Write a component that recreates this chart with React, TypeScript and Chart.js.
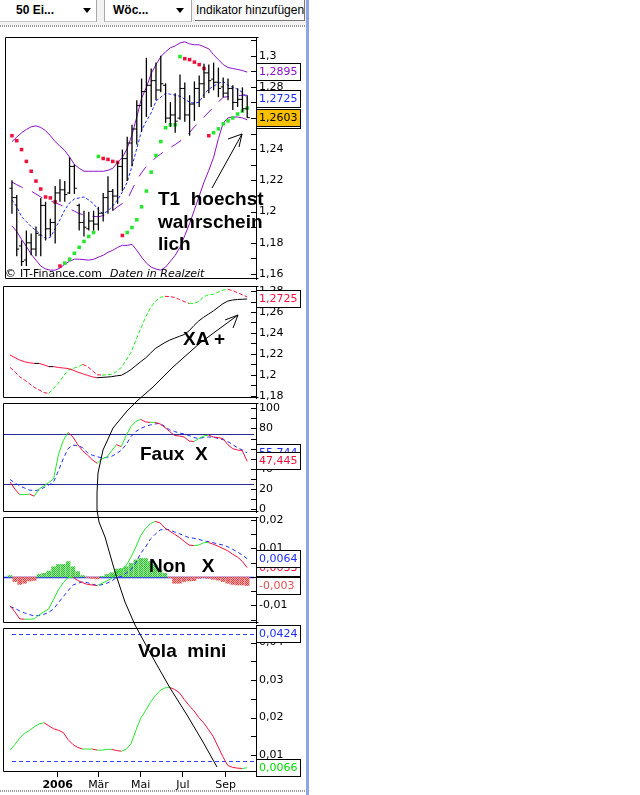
import React, { useEffect, useRef } from 'react';
import { Chart, registerables } from 'chart.js';

Chart.register(...registerables);

// ---------------- data ----------------
const firstWeek = '2005-10-24';
const weekCount = 50;
const monthTickDates = ['2006-01-01', '2006-03-01', '2006-05-01', '2006-07-01', '2006-09-01'];
const monthTickLabels = ['2006', 'Mär', 'Mai', 'Jul', 'Sep'];

const priceOpen = [1.215, 1.209, 1.178, 1.169, 1.18, 1.176, 1.185, 1.204, 1.189, 1.193, 1.212, 1.214, 1.212, 1.229, 1.204, 1.193, 1.189, 1.194, 1.192, 1.199, 1.209, 1.213, 1.21, 1.229, 1.234, 1.244, 1.253, 1.268, 1.277, 1.281, 1.284, 1.278, 1.281, 1.26, 1.262, 1.26, 1.279, 1.262, 1.269, 1.279, 1.282, 1.289, 1.285, 1.283, 1.28, 1.276, 1.279, 1.27, 1.272, 1.266];
const priceHigh = [1.2202, 1.2107, 1.1815, 1.1879, 1.186, 1.1904, 1.2088, 1.2063, 1.1955, 1.2164, 1.2208, 1.2196, 1.2348, 1.2303, 1.205, 1.2006, 1.1999, 1.2006, 1.2031, 1.212, 1.2227, 1.2145, 1.2322, 1.2398, 1.2481, 1.2557, 1.2715, 1.2854, 1.2987, 1.2918, 1.2956, 1.3, 1.2823, 1.2702, 1.276, 1.288, 1.2829, 1.2747, 1.2835, 1.2873, 1.2949, 1.2943, 1.2956, 1.2924, 1.2861, 1.2854, 1.281, 1.2791, 1.2797, 1.2747];
const priceLow = [1.1986, 1.1714, 1.1651, 1.1651, 1.172, 1.1714, 1.1714, 1.1815, 1.1841, 1.1796, 1.2063, 1.2063, 1.2113, 1.2113, 1.1879, 1.1841, 1.1879, 1.1879, 1.1879, 1.1936, 1.1986, 1.2006, 1.205, 1.2132, 1.2196, 1.2291, 1.243, 1.2512, 1.2607, 1.2671, 1.2715, 1.2766, 1.2569, 1.2544, 1.2506, 1.259, 1.2576, 1.2487, 1.2582, 1.2671, 1.2728, 1.2759, 1.2778, 1.2734, 1.2734, 1.2715, 1.2652, 1.2671, 1.2639, 1.2601];
const priceClose = [1.209, 1.176, 1.168, 1.18, 1.176, 1.186, 1.204, 1.189, 1.193, 1.212, 1.214, 1.211, 1.229, 1.215, 1.193, 1.19, 1.194, 1.192, 1.199, 1.209, 1.213, 1.21, 1.229, 1.234, 1.244, 1.253, 1.268, 1.277, 1.281, 1.284, 1.278, 1.282, 1.26, 1.262, 1.258, 1.279, 1.262, 1.269, 1.279, 1.282, 1.289, 1.284, 1.283, 1.279, 1.276, 1.279, 1.27, 1.272, 1.266, 1.2603];

const bbUpper = [1.2449, 1.2478, 1.2506, 1.2527, 1.2544, 1.255, 1.254, 1.2519, 1.2487, 1.2449, 1.242, 1.2392, 1.235, 1.2303, 1.2278, 1.2259, 1.2259, 1.2259, 1.2259, 1.2259, 1.2265, 1.2278, 1.2316, 1.2348, 1.2405, 1.2493, 1.2607, 1.2728, 1.2797, 1.2886, 1.2943, 1.2994, 1.3025, 1.3051, 1.3063, 1.3082, 1.3089, 1.3076, 1.307, 1.307, 1.3057, 1.3044, 1.3006, 1.2975, 1.2943, 1.2924, 1.2918, 1.2912, 1.2905, 1.2895];
const bbMiddle = [1.2075, 1.2031, 1.1967, 1.1936, 1.1904, 1.1879, 1.1853, 1.1828, 1.1835, 1.1892, 1.1948, 1.2012, 1.2056, 1.2081, 1.2088, 1.2094, 1.2075, 1.205, 1.2012, 1.1986, 1.2005, 1.2037, 1.2075, 1.2126, 1.2189, 1.2291, 1.2405, 1.2519, 1.2582, 1.2633, 1.2709, 1.2734, 1.2759, 1.2753, 1.2747, 1.274, 1.2721, 1.2702, 1.2696, 1.2702, 1.2753, 1.2785, 1.2804, 1.2823, 1.2835, 1.281, 1.2797, 1.2785, 1.2765, 1.2725];
const bbLower = [1.191, 1.1872, 1.1822, 1.1777, 1.1727, 1.1689, 1.1651, 1.1632, 1.1625, 1.1625, 1.1638, 1.1663, 1.1682, 1.1695, 1.1695, 1.1692, 1.1689, 1.1695, 1.1708, 1.172, 1.1739, 1.1752, 1.1771, 1.1784, 1.1784, 1.179, 1.1752, 1.1708, 1.167, 1.1644, 1.1632, 1.1625, 1.1644, 1.1682, 1.172, 1.1771, 1.1847, 1.1923, 1.2012, 1.21, 1.2189, 1.2265, 1.2348, 1.2468, 1.2569, 1.2601, 1.2607, 1.2607, 1.2601, 1.2589];
const longAverage = [1.2189, 1.2173, 1.2157, 1.2145, 1.2132, 1.2113, 1.2094, 1.2082, 1.2069, 1.2057, 1.2044, 1.2031, 1.2018, 1.2003, 1.1987, 1.198, 1.1974, 1.197, 1.1967, 1.1975, 1.1987, 1.2008, 1.2031, 1.2052, 1.2075, 1.214, 1.2202, 1.225, 1.2291, 1.232, 1.2348, 1.237, 1.2392, 1.2411, 1.243, 1.2452, 1.2474, 1.2509, 1.2544, 1.2576, 1.2607, 1.2639, 1.2671, 1.2703, 1.2734, 1.2737, 1.274, 1.2743, 1.2747, 1.2747];
const sarValues = [1.2487, 1.2455, 1.2398, 1.2322, 1.2259, 1.2196, 1.2145, 1.2094, 1.2088, 1.2062, 1.1651, 1.167, 1.1695, 1.1733, 1.1771, 1.1809, 1.1841, 1.1866, 1.2354, 1.2341, 1.2335, 1.2322, 1.2316, 1.1847, 1.1866, 1.1898, 1.1948, 1.2031, 1.2132, 1.2253, 1.236, 1.2449, 1.2538, 1.2557, 1.2557, 1.2994, 1.2981, 1.2975, 1.2959, 1.2943, 1.2918, 1.2487, 1.2506, 1.2531, 1.2563, 1.2582, 1.2601, 1.2626, 1.2645, 1.2664];
const sarSignal = [-1, -1, -1, -1, -1, -1, -1, -1, -1, -1, -1, 1, 1, 1, 1, 1, 1, 1, 1, -1, -1, -1, -1, -1, 1, 1, 1, 1, 1, 1, 1, 1, 1, 1, 1, 1, -1, -1, -1, -1, -1, -1, 1, 1, 1, 1, 1, 1, 1, 1];

const trendSlow = [1.2189, 1.2165, 1.2141, 1.2125, 1.2115, 1.2109, 1.2109, 1.2095, 1.2078, 1.2078, 1.207, 1.2065, 1.206, 1.2045, 1.2025, 1.201, 1.1995, 1.198, 1.1972, 1.1975, 1.1978, 1.1982, 1.199, 1.1995, 1.202, 1.205, 1.2088, 1.2125, 1.216, 1.2205, 1.225, 1.228, 1.2308, 1.2332, 1.235, 1.2368, 1.2385, 1.242, 1.247, 1.2515, 1.255, 1.258, 1.261, 1.2645, 1.268, 1.2705, 1.2715, 1.272, 1.2722, 1.2725];
const trendFast = [1.207, 1.203, 1.1981, 1.195, 1.1915, 1.188, 1.1855, 1.183, 1.1822, 1.187, 1.192, 1.1985, 1.2045, 1.206, 1.2075, 1.2099, 1.208, 1.204, 1.2, 1.1997, 1.1999, 1.2005, 1.203, 1.207, 1.214, 1.2215, 1.233, 1.244, 1.255, 1.264, 1.27, 1.274, 1.275, 1.2748, 1.274, 1.272, 1.27, 1.2683, 1.2683, 1.27, 1.2745, 1.2765, 1.277, 1.279, 1.281, 1.2817, 1.2805, 1.2785, 1.2765, 1.2745];

const stochK = [27, 20, 14.5, 14.5, 15, 13, 20, 23, 26.5, 30, 54, 68, 76, 71.5, 64, 58, 53.7, 49, 45.5, 50, 51.5, 58, 64, 62, 73, 82, 87, 89, 86.5, 86, 86, 84.5, 81, 77, 73, 72.5, 71.5, 67.5, 67, 70, 72.5, 73.5, 71.5, 71, 70, 64, 60, 58.7, 58, 47.445];
const stochD = [29.5, 26, 23.3, 21, 19, 18.5, 19, 21.5, 24, 27, 38, 50, 60, 63.5, 63, 61, 56, 53.5, 52, 51, 51.5, 52.5, 55, 58.5, 64, 72, 77, 80, 82, 83.5, 84.5, 85, 82, 78.5, 77, 75.5, 74.5, 73, 71, 70, 71, 71.5, 71.5, 70, 69, 67, 64, 61, 58.7, 55.744];
const stochLevels = [75, 25];

const macdLine = [-0.0101, -0.0122, -0.0147, -0.0148, -0.0148, -0.0147, -0.0133, -0.0122, -0.0112, -0.0078, -0.0045, -0.002, -0.0002, -0.0001, -0.0012, -0.002, -0.0026, -0.0028, -0.003, -0.0022, -0.0014, -0.0005, 0.0013, 0.0025, 0.004, 0.007, 0.0105, 0.0145, 0.017, 0.0187, 0.0195, 0.019, 0.0172, 0.0161, 0.015, 0.0139, 0.0125, 0.0112, 0.011, 0.0112, 0.012, 0.0121, 0.0115, 0.0108, 0.01, 0.0092, 0.008, 0.007, 0.0055, 0.0033];
const macdSignal = [-0.0104, -0.011, -0.0119, -0.0126, -0.0132, -0.0136, -0.0135, -0.0131, -0.0124, -0.0112, -0.009, -0.0069, -0.0048, -0.0028, -0.0022, -0.0017, -0.002, -0.0025, -0.003, -0.0027, -0.0022, -0.0014, -0.0002, 0.0002, 0.0014, 0.0025, 0.005, 0.0083, 0.0105, 0.0133, 0.015, 0.0165, 0.0168, 0.0165, 0.0158, 0.0152, 0.0145, 0.0138, 0.0136, 0.0132, 0.0127, 0.0124, 0.012, 0.0116, 0.0112, 0.0106, 0.0097, 0.0088, 0.0077, 0.0064];
const macdHist = [0.0005, -0.0016, -0.0026, -0.0022, -0.0014, -0.0012, 0.0009, 0.0013, 0.0021, 0.0036, 0.0044, 0.0044, 0.0054, 0.0036, 0.0019, 0.0005, -0.0002, -0.0005, -0.0007, 0.0002, 0.0009, 0.0015, 0.0028, 0.003, 0.0036, 0.0048, 0.006, 0.0065, 0.0065, 0.0054, 0.0042, 0.0025, 0.0013, -0.0003, -0.0022, -0.0022, -0.0016, -0.0014, -0.0013, -0.0005, -0.0002, -0.0005, -0.0008, -0.0011, -0.0016, -0.0022, -0.0026, -0.0028, -0.0028, -0.003];

const volatility = [0.0113, 0.0128, 0.0145, 0.0158, 0.0165, 0.0175, 0.0183, 0.0186, 0.0178, 0.017, 0.0166, 0.016, 0.0141, 0.0128, 0.012, 0.0116, 0.0116, 0.0116, 0.0113, 0.0113, 0.0115, 0.0115, 0.0112, 0.011, 0.0115, 0.013, 0.0165, 0.0198, 0.0218, 0.024, 0.0258, 0.0272, 0.0279, 0.028, 0.0275, 0.0266, 0.0248, 0.0232, 0.0218, 0.02, 0.0186, 0.0168, 0.0149, 0.0122, 0.0095, 0.0072, 0.0067, 0.0065, 0.0064, 0.0066];
const volaBands = [0.0424, 0.0085];

// ---------------- helpers ----------------
const AXIS_FONT = "'DejaVu Sans', sans-serif";
const ANNO_FONT = "'Liberation Sans', Arial, sans-serif";
const WEEK_MS = 7 * 86400000;
const weekIndex = Array.from({ length: weekCount }, (_, i) => i);
const monthTickPos = monthTickDates.map((d) => (Date.parse(d) - Date.parse(firstWeek)) / WEEK_MS);
const X_MIN = -1.45;
const X_MAX = 50.83;
const last = (a: number[]) => a[a.length - 1];
const pts = (a: number[], shift = 0) => a.map((y, i) => ({ x: weekIndex[i] + shift, y }));
const fmtNum = (v: number) => String(parseFloat(v.toFixed(4))).replace('.', ',');

const PURPLE = '#8c10c8';
const BLUE = '#1c2cff';
const RED = '#f0103c';
const GREEN = '#22e82a';

function yAxis(min: number, max: number, step: number, labelStep: number) {
  return {
    type: 'linear',
    position: 'right',
    min,
    max,
    grid: { display: false, drawTicks: false },
    border: { display: true, color: '#000', width: 1 },
    ticks: {
      autoSkip: false,
      padding: 3,
      color: '#000',
      font: { family: AXIS_FONT, size: 11 },
      callback: (v: number) => {
        const r = v / labelStep;
        return Math.abs(r - Math.round(r)) < 1e-6 ? fmtNum(v) : '';
      },
    },
    afterBuildTicks: (scale: any) => {
      const t: any[] = [];
      for (let k = Math.ceil(min / step - 1e-9); k * step <= max + 1e-12; k++) t.push({ value: +(k * step).toFixed(6) });
      scale.ticks = t;
    },
    afterFit: (scale: any) => {
      scale.width = 51;
      scale.paddingTop = 0;
      scale.paddingBottom = 0;
    },
  };
}

function xAxis(show: boolean) {
  const base: any = { type: 'linear', min: X_MIN, max: X_MAX, display: show, offset: false, grid: { offset: false } };
  if (!show) return base;
  return {
    ...base,
    grid: { display: true, offset: false, drawOnChartArea: false, drawTicks: true, tickLength: 5, color: '#000' },
    border: { display: false },
    ticks: {
      autoSkip: false,
      maxRotation: 0,
      padding: 2,
      color: '#000',
      font: (ctx: any) => ({ family: AXIS_FONT, size: 11, weight: /^\d+$/.test(String(ctx.tick?.label ?? '')) ? 'bold' : 'normal' }),
      callback: (_v: number, i: number) => monthTickLabels[i],
    },
    afterBuildTicks: (scale: any) => {
      scale.ticks = monthTickPos.map((value) => ({ value }));
    },
    afterFit: (scale: any) => {
      scale.height = 23;
      scale.paddingLeft = 0;
      scale.paddingRight = 0;
    },
  };
}

const framePlugin = {
  id: 'panelFrame',
  afterDatasetsDraw(chart: any) {
    const { ctx, chartArea: a } = chart;
    const ys = chart.scales.y;
    ctx.save();
    ctx.strokeStyle = '#000';
    ctx.lineWidth = 1;
    const l = Math.round(a.left) + 0.5;
    const t = Math.round(a.top) + 0.5;
    const r = Math.round(a.right) + 0.5;
    const b = Math.round(a.bottom) - 0.5;
    ctx.beginPath();
    ctx.moveTo(r + 2, t);
    ctx.lineTo(l, t);
    ctx.lineTo(l, b);
    ctx.lineTo(r + 2, b);
    ctx.stroke();
    ctx.beginPath();
    ys.ticks.forEach((tk: any) => {
      const p = Math.round(ys.getPixelForValue(tk.value)) + 0.5;
      ctx.moveTo(a.right - 5, p);
      ctx.lineTo(a.right, p);
    });
    ctx.stroke();
    ctx.restore();
  },
};

const levelPlugin = (levels: number[], color: string, width: number, dash: number[], fromData: boolean) => ({
  id: 'levelLines',
  beforeDatasetsDraw(chart: any) {
    const { ctx, chartArea: a, scales } = chart;
    const x0 = fromData ? scales.x.getPixelForValue(weekIndex[0]) + 2 : a.left;
    ctx.save();
    ctx.strokeStyle = color;
    ctx.lineWidth = width;
    ctx.setLineDash(dash);
    levels.forEach((v) => {
      const p = Math.round(scales.y.getPixelForValue(v)) + 0.5;
      ctx.beginPath();
      ctx.moveTo(x0, p);
      ctx.lineTo(a.right - 2, p);
      ctx.stroke();
    });
    ctx.restore();
  },
});

const boxPlugin = (boxes: { value: number; color: string; fill?: string }[]) => ({
  id: 'valueBoxes',
  afterDraw(chart: any) {
    const { ctx, chartArea: a, scales } = chart;
    ctx.save();
    ctx.font = `11px ${AXIS_FONT}`;
    ctx.textBaseline = 'middle';
    boxes.forEach((b) => {
      const p = Math.round(scales.y.getPixelForValue(b.value));
      const x0 = Math.round(a.right) + 0.5;
      const top = p - 8.5;
      ctx.fillStyle = b.fill || '#fff';
      ctx.fillRect(x0, top, 44, 17);
      ctx.strokeStyle = '#000';
      ctx.lineWidth = 1;
      ctx.strokeRect(x0, top, 44, 17);
      ctx.fillStyle = b.color;
      ctx.fillText(fmtNum(b.value), x0 + 2.5, p + 0.5);
    });
    ctx.restore();
  },
});

const slope = (up: string, down: string) => ({
  borderColor: (c: any) => (c.p1.parsed.y >= c.p0.parsed.y ? up : down),
});

const lineDs = (values: number[], color: string, extra: any = {}) => ({
  type: 'line',
  data: pts(values),
  borderColor: color,
  borderWidth: 1,
  pointRadius: 0,
  fill: false,
  tension: 0,
  ...extra,
});

function baseOptions(yScale: any, showX: boolean, padBottom: number) {
  return {
    responsive: false,
    animation: false,
    devicePixelRatio: 1,
    events: [],
    layout: { padding: { left: 3, right: 0, top: 3, bottom: padBottom } },
    plugins: { legend: { display: false }, tooltip: { enabled: false } },
    scales: { x: xAxis(showX), y: yScale },
  };
}

function makePattern(ctx: CanvasRenderingContext2D, a: string, b: string) {
  const c = document.createElement('canvas');
  c.width = 2;
  c.height = 2;
  const g = c.getContext('2d')!;
  g.fillStyle = b;
  g.fillRect(0, 0, 2, 2);
  g.fillStyle = a;
  g.fillRect(0, 0, 1, 1);
  g.fillRect(1, 1, 1, 1);
  return ctx.createPattern(c, 'repeat');
}

// panel geometry (page pixels)
const P = [
  { top: 32, h: 252 },
  { top: 283, h: 118 },
  { top: 400, h: 115 },
  { top: 514, h: 112 },
  { top: 625, h: 170 },
];

export default function App() {
  const r1 = useRef<HTMLCanvasElement>(null);
  const r2 = useRef<HTMLCanvasElement>(null);
  const r3 = useRef<HTMLCanvasElement>(null);
  const r4 = useRef<HTMLCanvasElement>(null);
  const r5 = useRef<HTMLCanvasElement>(null);

  useEffect(() => {
    const charts: Chart[] = [];

    // ---- panel 1: price, bands, SAR ----
    charts.push(
      new Chart(r1.current as any, {
        type: 'line',
        data: {
          datasets: [
            {
              type: 'bar',
              data: priceHigh.map((h, i) => ({ x: weekIndex[i], y: [priceLow[i], h] })),
              backgroundColor: '#000',
              barThickness: 1.3,
              borderWidth: 0,
              inflateAmount: 0,
            },
            { type: 'line', data: pts(priceOpen, -0.25), showLine: false, pointStyle: 'line', pointRadius: 1.3, pointBorderColor: '#000', pointBorderWidth: 1 },
            { type: 'line', data: pts(priceClose, 0.25), showLine: false, pointStyle: 'line', pointRadius: 1.3, pointBorderColor: '#000', pointBorderWidth: 1 },
            {
              type: 'line',
              data: pts(sarValues),
              showLine: false,
              pointStyle: 'rect',
              pointRadius: 2.5,
              pointBorderWidth: 0,
              pointBackgroundColor: (c: any) => (sarSignal[c.dataIndex] > 0 ? GREEN : RED),
            },
            lineDs(bbMiddle, BLUE, { borderDash: [3, 2] }),
            lineDs(bbUpper, PURPLE),
            lineDs(bbLower, PURPLE),
            lineDs(longAverage, PURPLE, { borderDash: [12, 10] }),
          ],
        } as any,
        options: baseOptions(yAxis(1.1568, 1.312, 0.01, 0.02), false, 4) as any,
        plugins: [
          framePlugin,
          boxPlugin([
            { value: last(bbLower), color: PURPLE },
            { value: last(bbUpper), color: PURPLE },
            { value: last(bbMiddle), color: BLUE },
            { value: last(priceClose), color: '#000', fill: '#f8c000' },
          ]),
        ],
      })
    );

    // ---- panel 2: trend averages ----
    charts.push(
      new Chart(r2.current as any, {
        type: 'line',
        data: {
          datasets: [
            lineDs(trendSlow, '#000', { segment: slope('#000', '#ff1040') }),
            lineDs(trendFast, '#ff1040', { borderDash: [4, 2], segment: slope('#22ee22', '#ff1040') }),
          ],
        } as any,
        options: baseOptions(yAxis(1.1778, 1.2849, 0.01, 0.02), false, 3) as any,
        plugins: [framePlugin, boxPlugin([{ value: last(trendSlow), color: '#ff1040' }])],
      })
    );

    // ---- panel 3: stochastic ----
    charts.push(
      new Chart(r3.current as any, {
        type: 'line',
        data: {
          datasets: [
            lineDs(stochK, RED, { segment: slope(GREEN, RED) }),
            lineDs(stochD, BLUE, { borderDash: [4, 3] }),
          ],
        } as any,
        options: baseOptions(yAxis(-2.7, 105.2, 10, 20), false, 3) as any,
        plugins: [
          levelPlugin(stochLevels, '#2a2a9c', 1, [], false),
          framePlugin,
          boxPlugin([
            { value: last(stochD), color: BLUE },
            { value: last(stochK), color: RED },
          ]),
        ],
      })
    );

    // ---- panel 4: MACD ----
    const ctx4 = r4.current!.getContext('2d')!;
    const greenPat = makePattern(ctx4, '#2dbd2d', '#95e495');
    const redPat = makePattern(ctx4, '#de4040', '#f3a5a5');
    charts.push(
      new Chart(r4.current as any, {
        type: 'line',
        data: {
          datasets: [
            lineDs(macdLine, RED, { segment: slope(GREEN, RED) }),
            lineDs(macdSignal, BLUE, { borderDash: [4, 3] }),
            {
              type: 'bar',
              data: pts(macdHist),
              barThickness: 4,
              borderWidth: 0,
              backgroundColor: (c: any) => ((c.parsed?.y ?? 0) >= 0 ? greenPat : redPat),
            },
          ],
        } as any,
        options: baseOptions(yAxis(-0.01614, 0.02105, 0.005, 0.01), false, 3) as any,
        plugins: [
          levelPlugin([0], '#1f1fff', 1.5, [], false),
          framePlugin,
          boxPlugin([
            { value: last(macdLine), color: RED },
            { value: last(macdSignal), color: BLUE },
            { value: last(macdHist), color: '#e05050' },
          ]),
        ],
      })
    );

    // ---- panel 5: volatility ----
    charts.push(
      new Chart(r5.current as any, {
        type: 'line',
        data: {
          datasets: [lineDs(volatility, GREEN, { segment: slope(GREEN, RED) })],
        } as any,
        options: baseOptions(yAxis(0.00547, 0.04387, 0.005, 0.01), true, 0) as any,
        plugins: [
          levelPlugin(volaBands, '#3340ff', 1, [4, 3], true),
          framePlugin,
          boxPlugin([
            { value: volaBands[0], color: BLUE },
            { value: last(volatility), color: '#00dd00' },
          ]),
        ],
      })
    );

    return () => charts.forEach((c) => c.destroy());
  }, []);

  const refs = [r1, r2, r3, r4, r5];
  const annoStyle: any = { fontFamily: ANNO_FONT, fontWeight: 'bold', fontSize: 19, whiteSpace: 'pre' };
  const tri = (left: number) => (
    <div
      style={{
        position: 'absolute',
        left,
        top: 8,
        width: 0,
        height: 0,
        borderLeft: '4px solid transparent',
        borderRight: '4px solid transparent',
        borderTop: '5px solid #000',
      }}
    />
  );

  return (
    <div style={{ position: 'absolute', left: 0, top: 0, width: 640, height: 795, background: '#fff', overflow: 'hidden' }}>
      {/* toolbar */}
      <div style={{ position: 'absolute', left: 0, top: 0, width: 306, height: 25, background: '#f2f2f2' }} />
      <div style={{ position: 'absolute', left: 0, top: 0, width: 96, height: 21, background: '#fff', borderRight: '1px solid #a8a8a8', borderBottom: '1px solid #c8c8c8' }}>
        <div style={{ position: 'absolute', left: 16, top: 3, font: `bold 12px ${ANNO_FONT}`, color: '#000' }}>50 Ei...</div>
        {tri(83)}
      </div>
      <div style={{ position: 'absolute', left: 104, top: 0, width: 86, height: 21, background: '#fff', borderLeft: '1px solid #a8a8a8', borderRight: '1px solid #a8a8a8', borderBottom: '1px solid #c8c8c8' }}>
        <div style={{ position: 'absolute', left: 8, top: 3, font: `bold 12px ${ANNO_FONT}`, color: '#000' }}>Wöc...</div>
        {tri(71)}
      </div>
      <div style={{ position: 'absolute', left: 195, top: 0, width: 109, height: 20, background: '#fbfbfb', borderRight: '1px solid #777', borderBottom: '1px solid #777' }}>
        <div style={{ position: 'absolute', left: 1, top: 3, font: `12px ${ANNO_FONT}`, color: '#000', whiteSpace: 'nowrap' }}>Indikator hinzufügen</div>
      </div>
      <div style={{ position: 'absolute', left: 0, top: 25, width: 306, height: 2, background: 'repeating-linear-gradient(90deg, #9a9a9a 0 1px, #fff 1px 2px)' }} />
      <div style={{ position: 'absolute', left: 0, top: 790, width: 306, height: 2, background: 'repeating-linear-gradient(90deg, #9a9a9a 0 1px, #fff 1px 2px)' }} />
      <div style={{ position: 'absolute', left: 306, top: 0, width: 3, height: 795, background: '#8fa3e8' }} />

      {refs.map((r, i) => (
        <canvas key={i} ref={r} width={307} height={P[i].h} style={{ position: 'absolute', left: 0, top: P[i].top, width: 307, height: P[i].h }} />
      ))}

      <svg width={640} height={795} style={{ position: 'absolute', left: 0, top: 0, pointerEvents: 'none' }}>
        <g fill="none" stroke="#000" strokeWidth={1}>
          <polyline points="212,188 242,134" />
          <polyline points="228,139 242,134 239,147" />
          <polyline points="238,315 200,343 173,367 153,387 137,401 127,411 113,428 103,450 98,473 97,493 97,510 99,522 105,537 115,572 125,602 135,625 153,658 170,688 187,715 203,742 217,767" />
          <polyline points="225,320 238,315 233,328" />
        </g>
        <text x={158} y={205} style={annoStyle}>T1  hoechst</text>
        <text x={158} y={228} style={annoStyle}>wahrschein</text>
        <text x={158} y={250} style={annoStyle}>lich</text>
        <text x={183} y={345} style={annoStyle}>XA +</text>
        <text x={140} y={460} style={annoStyle}>Faux  X</text>
        <text x={149} y={572} style={annoStyle}>Non   X</text>
        <text x={138} y={657} style={annoStyle}>Vola  mini</text>
        <text x={5} y={277} style={{ fontFamily: AXIS_FONT, fontSize: 11, whiteSpace: 'pre' }} fill="#000">
          <tspan>©</tspan>
          <tspan x={20}>IT-Finance.com</tspan>
          <tspan x={110} fontStyle="italic">Daten in Realzeit</tspan>
        </text>
      </svg>
    </div>
  );
}
